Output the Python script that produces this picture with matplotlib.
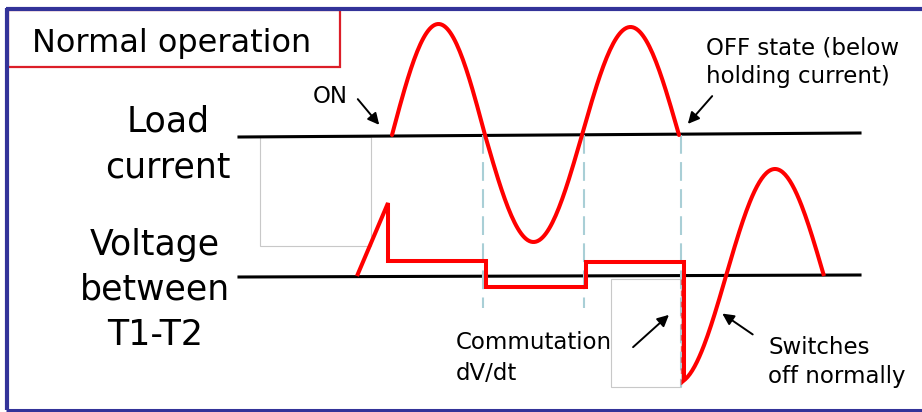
import matplotlib.pyplot as plt
from matplotlib.patches import Rectangle
import numpy as np

# canvas is laid out in pixel units (x right, y down)
W, H = 922, 412

# load current: zero crossings (px) and half-cycle amplitudes (px, up = positive)
current_base = 135
current_zeros = [392, 485, 582, 679]
current_amps = [111, -107, 108]

# voltage between T1-T2: corner points (px) relative to baseline (up = positive)
volt_base = 276
volt_x = [357, 388, 388, 486, 486, 586, 586, 684, 684]
volt_y = [0, 73, 15, 15, -11, -11, 14, 14, -104]
# tail after switching off: zero at 726, half cycle to 824, peak 107
tail_start, tail_zero, tail_end, tail_amp = 684, 726, 824, 107

# vertical guide lines (px) and their lower ends
guide_x = [483, 584, 681]
guide_bottom = [308, 308, 387]

RED = '#ff0000'
BLUE = '#333399'

fig = plt.figure(figsize=(W / 100, H / 100), dpi=100)
ax = fig.add_axes([0, 0, 1, 1])
ax.set_xlim(0, W)
ax.set_ylim(H, 0)
ax.axis('off')

# frame
ax.plot([7, 7], [8, 410], color=BLUE, lw=3, solid_capstyle='butt')
ax.plot([5.5, W], [9, 9], color=BLUE, lw=3, solid_capstyle='butt')
ax.plot([5.5, W], [410, 410], color=BLUE, lw=2.2, solid_capstyle='butt')

# title box
ax.add_patch(Rectangle((8, 10), 332, 57, fill=False, ec='#dc1e28', lw=1.6))
ax.text(32, 52, 'Normal operation', fontsize=23, va='baseline', ha='left')

# row labels
for txt, yb in [('Load', 132), ('current', 177)]:
    ax.text(168, yb, txt, fontsize=25, ha='center', va='baseline')
for txt, yb in [('Voltage', 255), ('between', 299), ('T1-T2', 345)]:
    ax.text(155, yb, txt, fontsize=25, ha='center', va='baseline')

# thin grey boxes
ax.add_patch(Rectangle((260, 137), 111, 109, fill=False, ec='#c8c8c8', lw=0.8))
ax.add_patch(Rectangle((611, 279), 70, 108, fill=False, ec='#c8c8c8', lw=0.8))

# base lines
ax.plot([239, 860], [137, 133], color='black', lw=2.2)
ax.plot([239, 860], [277, 275], color='black', lw=2.2)

# dashed guides
for gx, gb in zip(guide_x, guide_bottom):
    ax.plot([gx, gx], [current_base, gb], color='#a9cfd6', lw=1.5, dashes=(9, 4))
ax.plot([681, 681], [279, 387], color=RED, lw=1.0, dashes=(4, 4), alpha=0.6)

# load current
cx, cy = [], []
for x0, x1, a in zip(current_zeros[:-1], current_zeros[1:], current_amps):
    t = np.linspace(0, 1, 60)
    cx.extend(x0 + (x1 - x0) * t)
    cy.extend(current_base - a * np.sin(np.pi * t))
ax.plot(cx, cy, color=RED, lw=2.9, solid_capstyle='round')

# voltage
vx = list(volt_x)
vy = [volt_base - v for v in volt_y]
xs = np.linspace(tail_start, tail_end, 120)
vx.extend(xs)
vy.extend(volt_base - tail_amp * np.sin(np.pi * (xs - tail_zero) / (tail_end - tail_zero)))
ax.plot(vx, vy, color=RED, lw=2.9, solid_joinstyle='miter', solid_capstyle='butt')

# annotations
fs = 16.5
arrow = dict(arrowstyle='-|>', color='black', lw=1.4, mutation_scale=17)
ax.text(313, 103, 'ON', fontsize=fs, va='baseline')
ax.annotate('', xy=(381, 127), xytext=(356, 97), arrowprops=arrow)

ax.text(706, 54, 'OFF state (below', fontsize=fs, va='baseline')
ax.text(706, 83, 'holding current)', fontsize=fs, va='baseline')
ax.annotate('', xy=(686, 126), xytext=(714, 94), arrowprops=arrow)

ax.text(456, 349, 'Commutation', fontsize=fs, va='baseline')
ax.text(456, 380, 'dV/dt', fontsize=fs, va='baseline')
ax.annotate('', xy=(671, 313), xytext=(631, 349), arrowprops=arrow)

ax.text(768, 354, 'Switches', fontsize=fs, va='baseline')
ax.text(768, 383, 'off normally', fontsize=fs, va='baseline')
ax.annotate('', xy=(720, 312), xytext=(755, 336), arrowprops=arrow)

fig.savefig('out.png', dpi=100)
